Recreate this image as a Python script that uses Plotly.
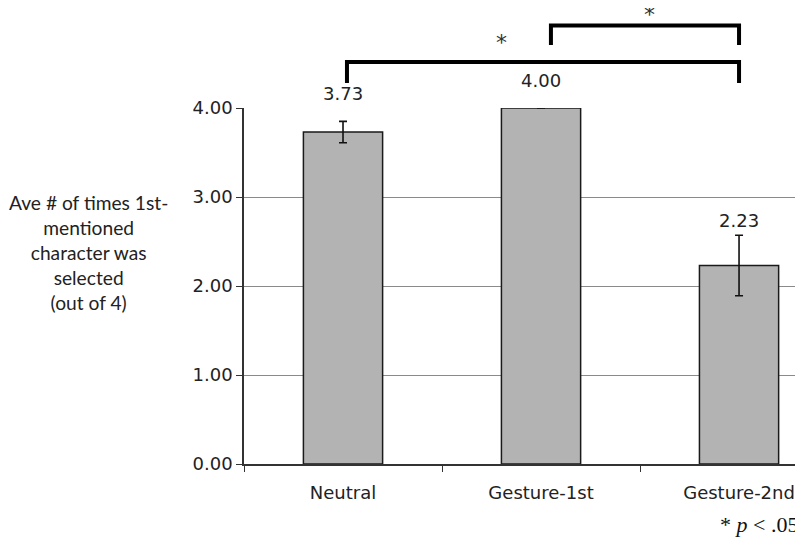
import plotly.graph_objects as go

categories = ["Neutral", "Gesture-1st", "Gesture-2nd"]
means = [3.73, 4.00, 2.23]
errors = [0.12, 0.0, 0.34]
value_labels = ["3.73", "4.00", "2.23"]
label_shift = [15, 15, 2]
y_ticks = [0, 1, 2, 3, 4]

tick_font = dict(family="Verdana, DejaVu Sans", size=18, color="#222222")
star_font = dict(family="Verdana, DejaVu Sans", size=22, color="#333333")

fig = go.Figure()
fig.add_trace(go.Bar(
    x=categories, y=means, width=0.4,
    marker=dict(color="#b3b3b3", line=dict(color="#1a1a1a", width=1.5)),
    error_y=dict(type="data", array=errors, visible=True, color="#111111",
                 thickness=1.6, width=4),
    showlegend=False, hoverinfo="skip",
))

annotations = []
for c, m, e, t, s in zip(categories, means, errors, value_labels, label_shift):
    annotations.append(dict(x=c, y=m + e, xref="x", yref="y", text=t,
                            showarrow=False, yanchor="bottom", yshift=s,
                            font=tick_font))

# y-axis title
annotations.append(dict(
    x=-0.278, y=0.593, xref="paper", yref="paper", xanchor="center", yanchor="middle",
    text="Ave # of times 1st-<br>mentioned<br>character was<br>selected<br>(out of 4)",
    showarrow=False, align="center",
    font=dict(family="Lato, Carlito, Calibri", size=19.2, color="#222222")))

# significance stars
annotations.append(dict(x=0.8, y=1.183, xref="x", yref="paper", text="*",
                        yanchor="middle", showarrow=False, font=star_font))
annotations.append(dict(x=1.55, y=1.262, xref="x", yref="paper", text="*",
                        yanchor="middle", showarrow=False, font=star_font))
# p-value note
annotations.append(dict(x=1.0, y=-0.171, xref="paper", yref="paper", xanchor="right",
                        yanchor="middle", xshift=-3, text="* <i>p</i> < .05", showarrow=False,
                        font=dict(family="Liberation Serif, Times New Roman", size=22, color="#111111")))

shapes = [
    dict(type="path", xref="x", yref="paper",
         path="M 0.02,1.070 L 0.02,1.129 L 2,1.129 L 2,1.070",
         line=dict(color="#000000", width=4)),
    dict(type="path", xref="x", yref="paper",
         path="M 1.05,1.177 L 1.05,1.232 L 2,1.232 L 2,1.177",
         line=dict(color="#000000", width=4)),
]

fig.update_layout(
    width=795, height=535,
    margin=dict(l=236, r=0, t=100, b=79),
    plot_bgcolor="white", paper_bgcolor="white",
    bargap=0.6,
    annotations=annotations, shapes=shapes,
    xaxis=dict(range=[-0.5, 2.323], showline=True, linecolor="#333333", linewidth=1.5,
               ticks="outside", tickson="boundaries", ticklen=6, tickcolor="#333333",
               tickfont=tick_font, showgrid=False, fixedrange=True, automargin=False,
               ticklabelstandoff=12),
    yaxis=dict(range=[0, 4], tickvals=y_ticks, tickformat=".2f", showline=True,
               linecolor="#333333", linewidth=1.5, ticks="outside", ticklen=6,
               tickcolor="#333333", tickfont=tick_font, showgrid=True,
               gridcolor="#8a8a8a", gridwidth=1, zeroline=False, automargin=False),
)

fig.write_html("out.html")
